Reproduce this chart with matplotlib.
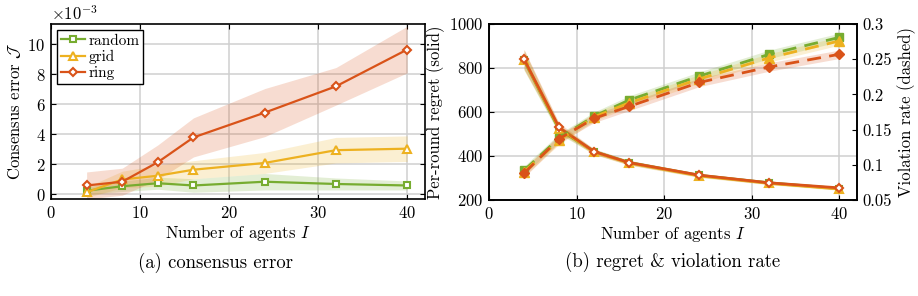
import matplotlib
matplotlib.use("Agg")
import matplotlib.pyplot as plt
import numpy as np

plt.rcParams['font.family'] = 'cmr10'
plt.rcParams['mathtext.fontset'] = 'cm'
plt.rcParams['axes.formatter.use_mathtext'] = True
plt.rcParams['font.size'] = 12

# data
agents = [4, 8, 12, 16, 24, 32, 40]
topologies = ['random', 'grid', 'ring']
colors = ['#77AC30', '#EDB120', '#D95319']
markers = ['s', '^', 'D']

# (a) consensus error, x1e-3, mean and band half-width
cons_mean = {
    'random': [0.25, 0.55, 0.75, 0.6, 0.85, 0.7, 0.6],
    'grid': [0.15, 1.0, 1.25, 1.65, 2.1, 2.95, 3.05],
    'ring': [0.6, 0.85, 2.15, 3.8, 5.45, 7.2, 9.65],
}
cons_std = {
    'random': [0.25, 0.35, 0.4, 0.45, 0.55, 0.4, 0.3],
    'grid': [0.35, 0.55, 0.7, 0.6, 0.7, 0.85, 0.85],
    'ring': [0.9, 0.9, 1.15, 1.3, 1.6, 1.25, 1.55],
}

# (b) per-round regret (solid) and violation rate (dashed)
regret = {
    'random': [835, 520, 420, 370, 312, 278, 252],
    'grid': [838, 525, 418, 368, 310, 276, 250],
    'ring': [840, 530, 420, 370, 313, 278, 255],
}
regret_std = [45, 20, 12, 10, 8, 7, 6]
violation = {
    'random': [0.092, 0.138, 0.169, 0.192, 0.226, 0.257, 0.281],
    'grid': [0.090, 0.135, 0.168, 0.188, 0.222, 0.252, 0.276],
    'ring': [0.088, 0.137, 0.166, 0.183, 0.217, 0.239, 0.257],
}
violation_std = [0.006, 0.006, 0.006, 0.006, 0.006, 0.006, 0.006]

fig = plt.figure(figsize=(9.18, 2.96), dpi=100)
ax1 = fig.add_axes([51 / 918, 1 - 199 / 296, 374 / 918, 175 / 296])
ax2 = fig.add_axes([489 / 918, 1 - 200 / 296, 368 / 918, 176 / 296])
ax3 = ax2.twinx()

x = np.array(agents)
for name, c, m in zip(topologies, colors, markers):
    mu = np.array(cons_mean[name]) * 1e-3
    sd = np.array(cons_std[name]) * 1e-3
    ax1.fill_between(x, mu - sd, mu + sd, color=c, alpha=0.2, lw=0)
    ax1.plot(x, mu, color=c, lw=1.6, marker=m, ms=5.5 if m == '^' else 4.5,
             mfc='white', mec=c, mew=1.5, label=name)

ax1.set_xlim(0, 42)
ax1.set_ylim(-0.3e-3, 11.35e-3)
ax1.set_xticks([0, 10, 20, 30, 40])
ax1.set_yticks(np.arange(0, 11, 2) * 1e-3)
ax1.ticklabel_format(axis='y', style='sci', scilimits=(-3, -3))
ax1.set_xlabel('Number of agents $I$', labelpad=2)
ax1.set_ylabel(r'Consensus error $\mathcal{J}$', labelpad=3)
ax1.grid(True, color='#cfcfcf', lw=1.1)
ax1.set_axisbelow(True)
ax1.tick_params(direction='in', top=True, right=True, pad=4)
leg = ax1.legend(loc='upper left', fontsize=11, fancybox=False, framealpha=1,
                 edgecolor='black', handlelength=1.6, handletextpad=0.2,
                 borderpad=0.25, labelspacing=0.15, borderaxespad=0.4)
leg.get_frame().set_linewidth(1.0)

rs = np.array(regret_std)
vs = np.array(violation_std)
for name, c, m in zip(topologies, colors, markers):
    r = np.array(regret[name])
    ax2.fill_between(x, r - rs, r + rs, color=c, alpha=0.2, lw=0)
    ax2.plot(x, r, color=c, lw=2, marker=m, ms=5.5 if m == '^' else 4.5,
             mfc='white', mec=c, mew=1.5)
    v = np.array(violation[name])
    ax3.fill_between(x, v - vs, v + vs, color=c, alpha=0.2, lw=0)
    ax3.plot(x, v, color=c, lw=2, ls=(0, (5, 3)), marker=m,
             ms=6.5 if m == '^' else 5.5, mfc=c, mec=c)

ax2.set_xlim(0, 42)
ax2.set_ylim(200, 1000)
ax2.set_xticks([0, 10, 20, 30, 40])
ax2.set_yticks([200, 400, 600, 800, 1000])
ax3.set_ylim(0.05, 0.3)
ax3.set_yticks([0.05, 0.1, 0.15, 0.2, 0.25, 0.3])
ax3.set_yticklabels(['0.05', '0.1', '0.15', '0.2', '0.25', '0.3'])
ax2.set_xlabel('Number of agents $I$', labelpad=2)
ax2.set_ylabel('Per-round regret (solid)', labelpad=3)
ax3.set_ylabel('Violation rate (dashed)', labelpad=4)
ax2.grid(True, color='#cfcfcf', lw=1.1)
ax2.set_axisbelow(True)
ax2.tick_params(direction='in', top=True, pad=4)
ax3.tick_params(direction='in', pad=4)

for ax in (ax1, ax2, ax3):
    for s in ax.spines.values():
        s.set_linewidth(1.2)

fig.text(215 / 918, 1 - 263 / 296, '(a) consensus error', ha='center', va='center', fontsize=13.5)
fig.text(673 / 918, 1 - 262 / 296, '(b) regret & violation rate', ha='center', va='center', fontsize=13.5)

fig.savefig('out.png', dpi=100)
